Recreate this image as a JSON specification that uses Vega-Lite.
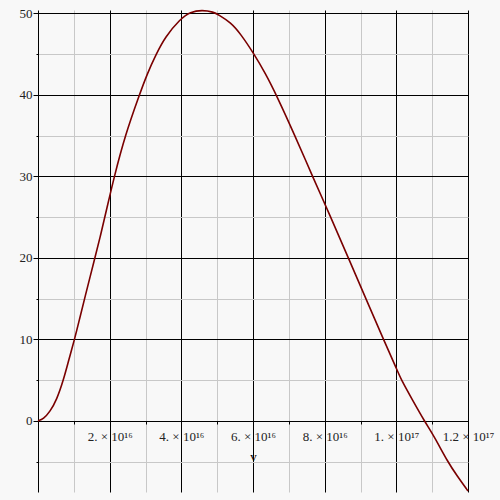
{
  "$schema": "https://vega.github.io/schema/vega-lite/v6.json",
  "width": 430,
  "height": 482,
  "autosize": {"type": "none"},
  "padding": {"left": 38, "top": 10, "right": 32, "bottom": 8},
  "background": "#f8f8f8",
  "config": {
    "view": {"stroke": null},
    "axis": {
      "labelFont": "Liberation Serif",
      "labelFontSize": 13,
      "labelColor": "#222222",
      "titleFont": "Liberation Serif",
      "titleFontWeight": "normal",
      "titleColor": "#000000",
      "gridOpacity": 1,
      "labelFlush": false,
      "labelOverlap": false
    }
  },
  "data": {
    "values": [
      {"v": 0, "f": 0},
      {"v": 0.15e16, "f": 0.22},
      {"v": 0.336e16, "f": 1.14},
      {"v": 0.52e16, "f": 2.57},
      {"v": 0.71e16, "f": 5},
      {"v": 0.86e16, "f": 7.5},
      {"v": 1.02e16, "f": 10},
      {"v": 1.16e16, "f": 12.5},
      {"v": 1.30e16, "f": 15},
      {"v": 1.57e16, "f": 19.7},
      {"v": 1.75e16, "f": 22.8},
      {"v": 1.92e16, "f": 26.06},
      {"v": 2.13e16, "f": 30},
      {"v": 2.43e16, "f": 35},
      {"v": 2.83e16, "f": 40},
      {"v": 3.05e16, "f": 42.6},
      {"v": 3.3e16, "f": 45},
      {"v": 3.55e16, "f": 47.1},
      {"v": 3.97e16, "f": 49.3},
      {"v": 4.25e16, "f": 50.16},
      {"v": 4.58e16, "f": 50.4},
      {"v": 4.9e16, "f": 50.16},
      {"v": 5.04e16, "f": 49.8},
      {"v": 5.37e16, "f": 48.9},
      {"v": 5.65e16, "f": 47.5},
      {"v": 6.03e16, "f": 45},
      {"v": 6.35e16, "f": 42.6},
      {"v": 6.65e16, "f": 40},
      {"v": 7.17e16, "f": 35},
      {"v": 7.66e16, "f": 30},
      {"v": 8.17e16, "f": 25},
      {"v": 8.66e16, "f": 20},
      {"v": 9.15e16, "f": 15},
      {"v": 9.64e16, "f": 10},
      {"v": 10.0e16, "f": 6.46},
      {"v": 10.14e16, "f": 5},
      {"v": 10.45e16, "f": 2.57},
      {"v": 10.78e16, "f": 0},
      {"v": 11.06e16, "f": -1.92},
      {"v": 11.43e16, "f": -5},
      {"v": 11.71e16, "f": -6.83},
      {"v": 12.0e16, "f": -8.6}
    ]
  },
  "layer": [
    {
      "mark": {"type": "line", "strokeOpacity": 0},
      "encoding": {
        "x": {
          "field": "v", "type": "quantitative",
          "scale": {"domain": [0, 1.2e17], "nice": false, "zero": false},
          "axis": {
            "orient": "bottom", "offset": -71,
            "values": [1e16, 3e16, 5e16, 7e16, 9e16, 1.1e17],
            "grid": true, "gridColor": "#c8c8c8", "gridWidth": 1,
            "labels": false, "domain": false,
            "ticks": true, "tickColor": "#000000", "tickSize": 3,
            "title": null
          }
        },
        "y": {
          "field": "f", "type": "quantitative",
          "scale": {"domain": [-8.72, 50.4], "nice": false, "zero": false},
          "axis": {
            "orient": "left",
            "values": [-5, 5, 15, 25, 35, 45],
            "grid": true, "gridColor": "#c8c8c8", "gridWidth": 1,
            "labels": false, "domain": false,
            "ticks": true, "tickColor": "#000000", "tickSize": 2,
            "title": null
          }
        }
      }
    },
    {
      "mark": {"type": "line", "color": "#7a0000", "strokeWidth": 1.6, "interpolate": "basis"},
      "encoding": {
        "x": {
          "field": "v", "type": "quantitative",
          "axis": {
            "orient": "bottom", "offset": -71,
            "values": [2e16, 4e16, 6e16, 8e16, 1e17, 1.2e17],
            "grid": true, "gridColor": "#000000", "gridWidth": 1,
            "domain": true, "domainColor": "#000000", "domainWidth": 1,
            "ticks": false,
            "labelPadding": 9,
            "labelExpr": "['','','2. × 10¹⁶','','4. × 10¹⁶','','6. × 10¹⁶','','8. × 10¹⁶','','1. × 10¹⁷','','1.2 × 10¹⁷'][round(datum.value/1e16)]",
            "title": "v", "titleFontSize": 13, "titleY": 39, "titleBaseline": "alphabetic"
          }
        },
        "y": {
          "field": "f", "type": "quantitative",
          "axis": {
            "orient": "left",
            "values": [0, 10, 20, 30, 40, 50],
            "grid": true, "gridColor": "#000000", "gridWidth": 1,
            "domain": true, "domainColor": "#000000", "domainWidth": 1,
            "ticks": true, "tickColor": "#000000", "tickSize": 5,
            "labelPadding": 1,
            "title": null
          }
        }
      }
    }
  ],
  "resolve": {"axis": {"x": "independent", "y": "independent"}}
}
